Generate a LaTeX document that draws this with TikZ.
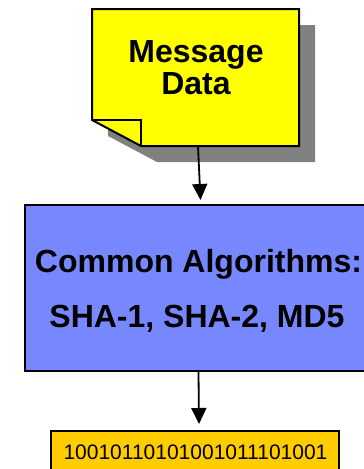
\documentclass[tikz,border=0pt]{standalone}
\usepackage{fontspec}
\setmainfont{Liberation Sans}
\usetikzlibrary{arrows.meta}
\definecolor{noteyellow}{RGB}{255,255,0}
\definecolor{algoblue}{RGB}{119,136,255}
\definecolor{hashorange}{RGB}{255,204,0}
\definecolor{shadowgray}{RGB}{128,128,128}
\tikzset{
  boxline/.style={draw=black, line width=2pt},
  algobox/.style={boxline, fill=algoblue, inner sep=0pt},
  hashbox/.style={boxline, fill=hashorange, inner sep=0pt},
  bigtext/.style={font=\fontsize{32}{32}\selectfont\bfseries, inner sep=0pt, anchor=base},
  smalltext/.style={font=\fontsize{21}{21}\selectfont, inner sep=0pt, anchor=base},
  flow/.style={line width=1.8pt, -{Triangle[length=16pt,width=15pt]}},
}
\begin{document}
\begin{tikzpicture}[x=1pt,y=-1pt]
\useasboundingbox (0,0) rectangle (364,469);
\clip (0,0) rectangle (364,469);
\fill[white] (0,0) rectangle (364,469);
% shadow of the note
\fill[shadowgray] (108,25) -- (315,25) -- (315,162) -- (157,162) -- (108,136) -- cycle;
% note
\draw[boxline, fill=noteyellow, line join=miter] (92,9) -- (299,9) -- (299,146) -- (141,146) -- (92,120) -- cycle;
\draw[boxline, line join=miter] (92,120) -- (141,120) -- (141,146);
\node[bigtext] (msg1) at (196,62) {Message};
\node[bigtext] (msg2) at (196,94) {Data};
\coordinate (noteS) at (198,146);
% algorithm box
\node[algobox, minimum width=347pt, minimum height=166pt] (algo) at (198.5,288) {};
\node[bigtext] (algo1) at (198.5,272) {Common Algorithms:};
\node[bigtext] (algo2) at (197,327) {SHA-1, SHA-2, MD5};
% hash box
\node[hashbox, minimum width=288pt, minimum height=60pt] (hash) at (195,461) {};
\node[smalltext] (hash1) at (195.5,459) {10010110101001011101001};
% arrows
\draw[flow] (noteS) -- ([shift={(2,-4)}]algo.north);
\draw[flow] (algo.south) -- ([shift={(4,-6)}]hash.north);
\end{tikzpicture}
\end{document}
